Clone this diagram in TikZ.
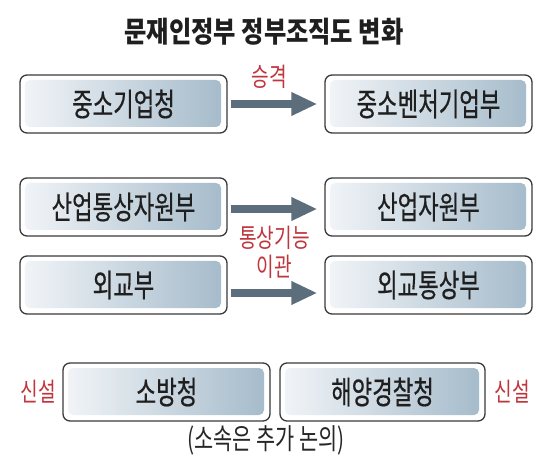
\documentclass[tikz,border=0pt]{standalone}
\usepackage{fontspec}
\usetikzlibrary{arrows.meta}
\newfontfamily\krbox[FakeStretch=0.7,FakeBold=0.5]{Noto Sans CJK KR}
\newfontfamily\krnote[FakeStretch=0.72]{Noto Sans CJK KR}
\newfontfamily\krlab[FakeStretch=0.74]{Noto Sans CJK KR}
\newfontfamily\krtitle[FakeStretch=0.84]{Noto Sans CJK KR}
\definecolor{redlab}{HTML}{C0363E}
\definecolor{boxline}{HTML}{3A3A3C}
\definecolor{inL}{HTML}{F2F5F8}
\definecolor{inR}{HTML}{A4BACA}
\definecolor{arrowc}{HTML}{5C6E7B}
\begin{document}
\begin{tikzpicture}[x=1bp,y=-1bp,
  orgbox/.style={draw=boxline, line width=1.3bp, fill=white, rounded corners=7bp,
    minimum width=207bp, minimum height=58bp, inner sep=0pt,
    font=\krbox\fontsize{32}{32}\selectfont, text=black!88,
    path picture={\shade[left color=inL, right color=inR, rounded corners=5bp]
      ([shift={(5bp,-5bp)}]path picture bounding box.north west) rectangle
      ([shift={(-6bp,6bp)}]path picture bounding box.south east);}},
  redlabel/.style={text=redlab, inner sep=0pt, font=\krlab\fontsize{26}{26}\selectfont},
  arr/.style={draw=arrowc, line width=8bp, -{Triangle[length=26bp,width=22bp]}},
  titlestyle/.style={inner sep=0pt, text=black!88, font=\krtitle\bfseries\fontsize{29}{29}\selectfont},
  notestyle/.style={inner sep=0pt, text=black!85, font=\krnote\fontsize{29}{29}\selectfont}
]
\useasboundingbox (0,0) rectangle (550,476);
\node[titlestyle] (title) at (264,32) {문재인정부 정부조직도 변화};

\node[orgbox] (a1) at (123.5,104) {중소기업청};
\node[orgbox] (b1) at (428.5,104) {중소벤처기업부};
\node[orgbox] (a2) at (123.5,207) {산업통상자원부};
\node[orgbox] (b2) at (428.5,207) {산업자원부};
\node[orgbox] (a3) at (123.5,285) {외교부};
\node[orgbox] (b3) at (428.5,285) {외교통상부};
\node[orgbox] (c1) at (166.5,392) {소방청};
\node[orgbox, minimum width=205bp] (c2) at (382.5,392) {해양경찰청};

\draw[arr] ([xshift=3bp]a1.east) -- ([xshift=-7bp]b1.west);
\draw[arr] ([xshift=3bp,yshift=-2bp]a2.east) -- ([xshift=-7bp,yshift=-2bp]b2.west);
\draw[arr] ([xshift=3bp,yshift=-8bp]a3.east) -- ([xshift=-7bp,yshift=-8bp]b3.west);

\node[redlabel] (l1) at (269,77) {승격};
\node[redlabel] (l2) at (274.5,238) {통상기능};
\node[redlabel] (l3) at (274,267) {이관};
\node[redlabel] (l4) at (38,392) {신설};
\node[redlabel] (l5) at (512,392) {신설};
\node[notestyle] (note) at (266,440) {(소속은 추가 논의)};
\end{tikzpicture}
\end{document}
